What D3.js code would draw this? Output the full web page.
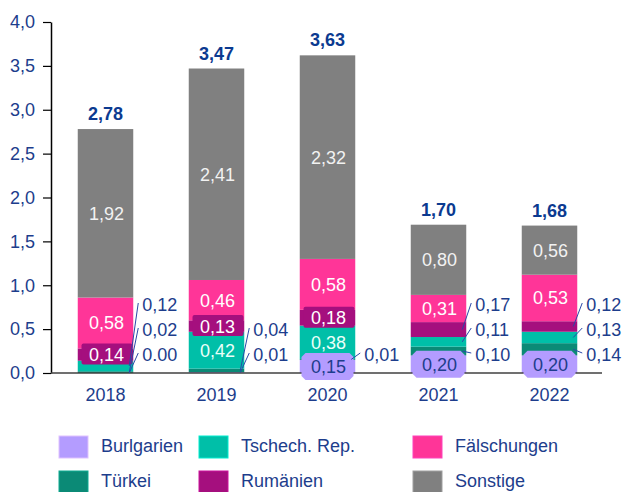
<!DOCTYPE html>
<html>
<head>
<meta charset="utf-8">
<script src="https://cdn.jsdelivr.net/npm/d3@7"></script>
<style>
  body { margin: 0; background: #fff; }
  text { font-family: "Liberation Sans", Arial, sans-serif; }
</style>
</head>
<body>
<div class="holder"></div>
<script>
var years = ['2018', '2019', '2020', '2021', '2022']
var seriesNames = ['Burlgarien', 'Türkei', 'Tschech. Rep.', 'Rumänien', 'Fälschungen', 'Sonstige']

var burlgarien   = [0.00, 0.01, 0.15, 0.20, 0.20]
var tuerkei      = [0.02, 0.04, 0.01, 0.10, 0.14]
var tschech      = [0.12, 0.42, 0.38, 0.11, 0.13]
var rumaenien    = [0.14, 0.13, 0.18, 0.17, 0.12]
var faelschungen = [0.58, 0.46, 0.58, 0.31, 0.53]
var sonstige     = [1.92, 2.41, 2.32, 0.80, 0.56]
var totals       = [2.78, 3.47, 3.63, 1.70, 1.68]

var yTicks = [0, 0.5, 1, 1.5, 2, 2.5, 3, 3.5, 4]

// labels that sit next to the bar with a leader line (bottom to top)
var outsideLabels = [
  ['Burlgarien', 'Türkei', 'Tschech. Rep.'],
  ['Burlgarien', 'Türkei'],
  ['Türkei'],
  ['Türkei', 'Tschech. Rep.', 'Rumänien'],
  ['Türkei', 'Tschech. Rep.', 'Rumänien']
]

var legendRows = [
  ['Burlgarien', 'Tschech. Rep.', 'Fälschungen'],
  ['Türkei', 'Rumänien', 'Sonstige']
]

var colors = {
  'Burlgarien': '#b49cff',
  'Türkei': '#0b8a76',
  'Tschech. Rep.': '#00bfa8',
  'Rumänien': '#a50f7e',
  'Fälschungen': '#ff3598',
  'Sonstige': '#808080'
}
var labelColor = {
  'Burlgarien': '#1d3d8c',
  'Tschech. Rep.': '#eafff9',
  'Rumänien': '#ffffff',
  'Fälschungen': '#ffffff',
  'Sonstige': '#f2f2f2'
}
var blue = '#1d3d8c'

var values = [burlgarien, tuerkei, tschech, rumaenien, faelschungen, sonstige]
var table = years.map(function (y, i) {
  var row = { year: y }
  seriesNames.forEach(function (s, j) { row[s] = values[j][i] })
  return row
})

var stack = d3.stack().keys(seriesNames)(table)

function fmt(v) {
  // the source writes the zero value with a point
  if (v === 0) return '0.00'
  return d3.format('.2f')(v).replace('.', ',')
}

var svg = d3.select('.holder').append('svg')
  .attr('width', 627)
  .attr('height', 492)

var x = d3.scaleBand().domain(years).range([50, 605]).paddingInner(0.5).paddingOuter(0.25)
var y = d3.scaleLinear().domain([0, 4]).range([373, 22])

// bars
svg.selectAll('.layer')
  .data(stack)
  .enter().append('g')
  .attr('class', 'layer')
  .attr('fill', function (d) { return colors[d.key] })
  .selectAll('rect')
  .data(function (d) { return d })
  .enter().append('rect')
  .attr('x', function (d) { return x(d.data.year) })
  .attr('width', x.bandwidth())
  .attr('y', function (d) { return y(d[1]) })
  .attr('height', function (d) { return y(d[0]) - y(d[1]) })

// axes
var yAxis = d3.axisLeft(y).tickValues(yTicks).tickSize(8).tickSizeOuter(0).tickPadding(8)
  .tickFormat(function (d) { return d3.format('.1f')(d).replace('.', ',') })
var yg = svg.append('g').attr('transform', 'translate(51,0)').call(yAxis)
yg.select('.domain').attr('stroke', '#000').attr('stroke-width', 1.5)
yg.selectAll('.tick line').attr('stroke', '#000').attr('stroke-width', 1.2)
yg.selectAll('.tick text').attr('fill', blue).style('font-size', '18px')

var xAxis = d3.axisBottom(x).tickSize(0).tickSizeOuter(0).tickPadding(15)
var xg = svg.append('g').attr('transform', 'translate(0,373)').call(xAxis)
xg.select('.domain').attr('d', 'M51,0H602').attr('stroke', '#404040').attr('stroke-width', 1.5)
xg.selectAll('.tick text').attr('fill', blue).style('font-size', '18px')

// inside labels
stack.forEach(function (layer) {
  layer.forEach(function (d, i) {
    var key = layer.key
    if (outsideLabels[i].indexOf(key) >= 0) return
    var cx = x(d.data.year) + x.bandwidth() / 2
    var cy = (y(d[0]) + y(d[1])) / 2
    if (key === 'Rumänien') {
      svg.append('rect')
        .attr('x', cx - 24).attr('y', cy - 11)
        .attr('width', 51).attr('height', 21)
        .attr('rx', 2)
        .attr('fill', colors[key])
    }
    if (key === 'Burlgarien') {
      var w = 52, h = 27, c = 4, x0 = cx - w / 2, y0 = cy - h / 2
      svg.append('path')
        .attr('d', 'M' + (x0 + c) + ',' + y0 + 'H' + (x0 + w - c) + 'L' + (x0 + w) + ',' + (y0 + c) +
          'V' + (y0 + h - c) + 'L' + (x0 + w - c) + ',' + (y0 + h) + 'H' + (x0 + c) +
          'L' + x0 + ',' + (y0 + h - c) + 'V' + (y0 + c) + 'Z')
        .attr('fill', colors[key])
    }
    svg.append('text')
      .attr('x', cx + 1).attr('y', cy)
      .attr('dy', '0.36em')
      .attr('text-anchor', 'middle')
      .attr('fill', labelColor[key])
      .style('font-size', '18px')
      .text(fmt(d[1] - d[0]))
  })
})

// outside labels with leader lines
years.forEach(function (yr, i) {
  var right = x(yr) + x.bandwidth()
  outsideLabels[i].forEach(function (key, k) {
    var layer = stack[seriesNames.indexOf(key)][i]
    var segY = (y(layer[0]) + y(layer[1])) / 2
    var ly = 355 - k * 25
    svg.append('line')
      .attr('x1', right + 5).attr('y1', ly - 2)
      .attr('x2', right - 4).attr('y2', segY)
      .attr('stroke', '#2a48a8').attr('stroke-width', 1)
    svg.append('text')
      .attr('x', right + 9).attr('y', ly)
      .attr('dy', '0.36em')
      .attr('fill', blue)
      .style('font-size', '18px')
      .text(fmt(layer[1] - layer[0]))
  })
})

// totals
svg.selectAll('.total')
  .data(years)
  .enter().append('text')
  .attr('class', 'total')
  .attr('x', function (d) { return x(d) + x.bandwidth() / 2 })
  .attr('y', function (d, i) { return y(d3.sum(values, function (v) { return v[i] })) - 9 })
  .attr('text-anchor', 'middle')
  .attr('fill', '#0b3a90')
  .style('font-size', '18px')
  .style('font-weight', 'bold')
  .text(function (d, i) { return d3.format('.2f')(totals[i]).replace('.', ',') })

// legend
var colX = [59, 199, 413]
var rowY = [436, 471]
legendRows.forEach(function (row, r) {
  row.forEach(function (key, c) {
    var g = svg.append('g').attr('transform', 'translate(' + colX[c] + ',' + rowY[r] + ')')
    g.append('rect')
      .attr('width', 29).attr('height', 22)
      .attr('fill', colors[key])
      .attr('stroke', d3.color(colors[key]).brighter(0.6))
      .attr('stroke-width', 1)
    g.append('text')
      .attr('x', 42).attr('y', 10)
      .attr('dy', '0.36em')
      .attr('fill', blue)
      .style('font-size', '18px')
      .text(key)
  })
})
</script>
</body>
</html>
